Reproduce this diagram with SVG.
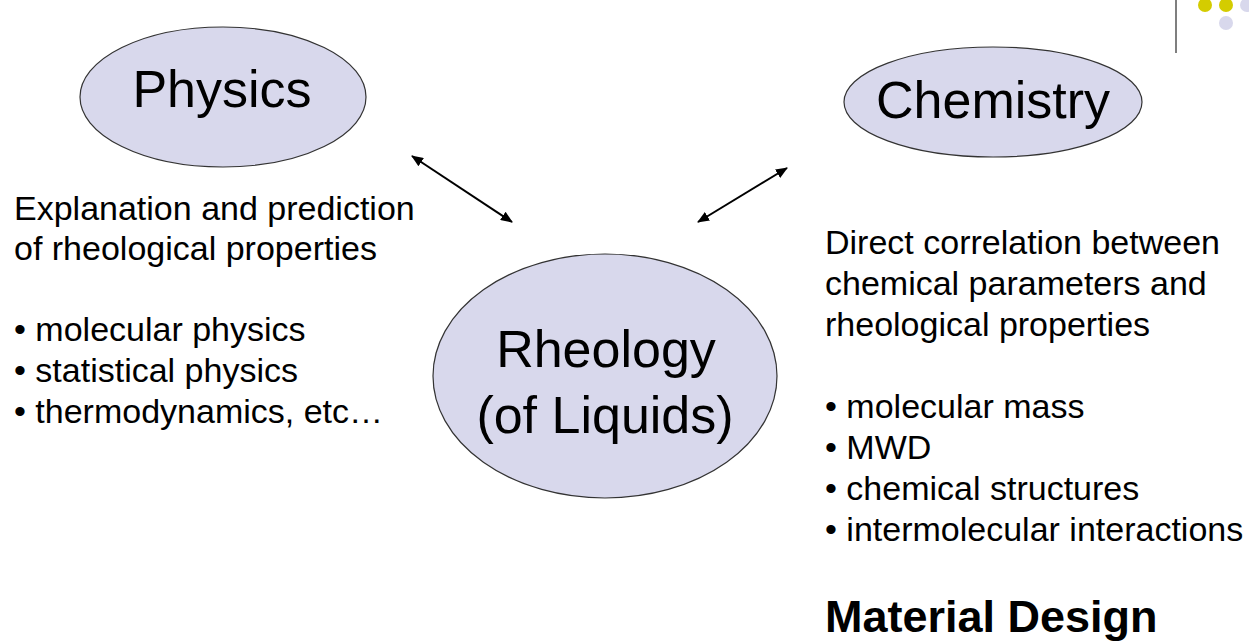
<svg xmlns="http://www.w3.org/2000/svg" width="1249" height="643" viewBox="0 0 1249 643">
  <defs>
    <marker id="head" viewBox="0 0 12 10" refX="11" refY="5" markerWidth="12" markerHeight="10" markerUnits="userSpaceOnUse" orient="auto-start-reverse">
      <path d="M0,0 L12,5 L0,10 z" fill="#000"/>
    </marker>
    <style>
      .bubble { fill: #d8d8ec; stroke: #333; stroke-width: 1.2; }
      .title { font-family: "Liberation Sans", Arial, sans-serif; fill: #000; text-anchor: middle; font-size: 52px; }
      .body { font-family: "Liberation Sans", Arial, sans-serif; fill: #000; font-size: 34px; }
      .heading { font-family: "Liberation Sans", Arial, sans-serif; fill: #000; font-size: 45px; font-weight: bold; }
      .link { stroke: #000; stroke-width: 2; fill: none; marker-start: url(#head); marker-end: url(#head); }
    </style>
  </defs>
  <rect width="1249" height="643" fill="#fff"/>

  <!-- corner decoration -->
  <g id="corner">
    <line x1="1176" y1="0" x2="1176" y2="53" stroke="#555" stroke-width="1.5"/>
    <circle cx="1205" cy="5" r="7" fill="#d4cc00"/>
    <circle cx="1226" cy="5" r="7" fill="#d4cc00"/>
    <circle cx="1247" cy="5" r="7" fill="#d8d8ec"/>
    <circle cx="1226" cy="23" r="7" fill="#d8d8ec"/>
  </g>

  <g id="physics">
    <ellipse class="bubble" cx="223" cy="97" rx="143" ry="70"/>
    <text class="title" x="222" y="107">Physics</text>
  </g>

  <g id="chemistry">
    <ellipse class="bubble" cx="993" cy="102" rx="149" ry="55"/>
    <text class="title" x="993" y="118">Chemistry</text>
  </g>

  <g id="rheology">
    <ellipse class="bubble" cx="605" cy="376" rx="172" ry="122"/>
    <text class="title" x="606" y="367">Rheology</text>
    <text class="title" x="605" y="433">(of Liquids)</text>
  </g>

  <g id="connectors">
    <line class="link" x1="412" y1="156" x2="512" y2="222"/>
    <line class="link" x1="787" y1="168" x2="698" y2="222"/>
  </g>

  <g id="physics-notes">
    <text class="body" x="14" y="220">Explanation and prediction</text>
    <text class="body" x="14" y="260">of rheological properties</text>
    <text class="body" x="14" y="341">• molecular physics</text>
    <text class="body" x="14" y="382">• statistical physics</text>
    <text class="body" x="14" y="423">• thermodynamics, etc…</text>
  </g>

  <g id="chemistry-notes">
    <text class="body" x="825" y="254">Direct correlation between</text>
    <text class="body" x="825" y="295">chemical parameters and</text>
    <text class="body" x="825" y="336">rheological properties</text>
    <text class="body" x="825" y="418">• molecular mass</text>
    <text class="body" x="825" y="459">• MWD</text>
    <text class="body" x="825" y="500">• chemical structures</text>
    <text class="body" x="825" y="541">• intermolecular interactions</text>
    <text class="heading" x="825" y="632">Material Design</text>
  </g>
</svg>
